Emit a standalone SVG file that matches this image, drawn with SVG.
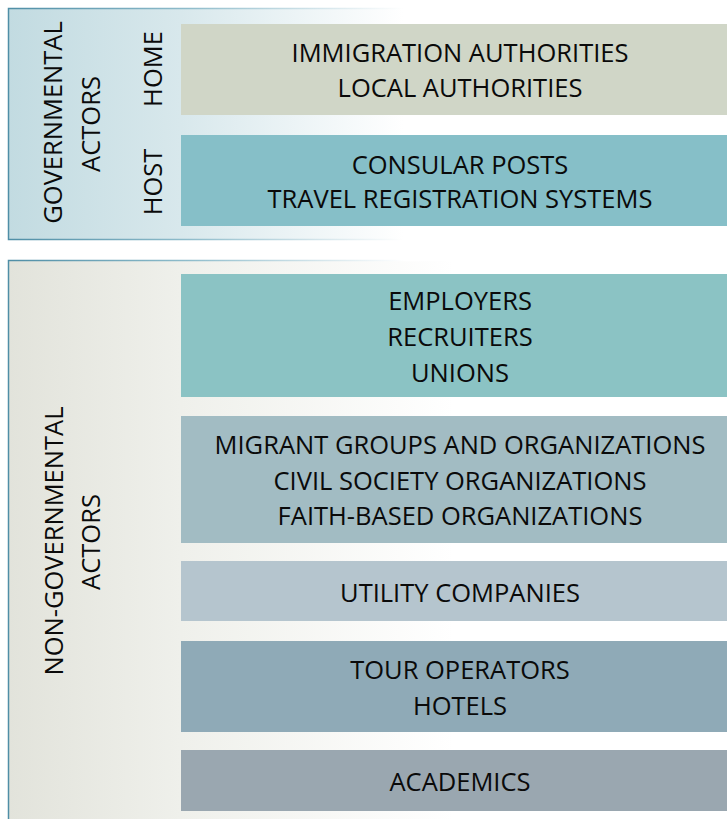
<svg xmlns="http://www.w3.org/2000/svg" width="727" height="819" viewBox="0 0 727 819">
<defs>
<linearGradient id="gTop" gradientUnits="userSpaceOnUse" x1="8" y1="0" x2="727" y2="0">
<stop offset="0" stop-color="#c2dbe1"/>
<stop offset="0.24" stop-color="#d8e8ec"/>
<stop offset="0.55" stop-color="#ffffff"/>
</linearGradient>
<linearGradient id="gTopS" gradientUnits="userSpaceOnUse" x1="8" y1="0" x2="727" y2="0">
<stop offset="0" stop-color="#4f8ea6"/>
<stop offset="0.25" stop-color="#8fbccb"/>
<stop offset="0.55" stop-color="#ffffff"/>
</linearGradient>
<linearGradient id="gBot" gradientUnits="userSpaceOnUse" x1="8" y1="0" x2="727" y2="0">
<stop offset="0" stop-color="#e2e3db"/>
<stop offset="0.24" stop-color="#eff0eb"/>
<stop offset="0.62" stop-color="#ffffff"/>
</linearGradient>
<linearGradient id="gBotS" gradientUnits="userSpaceOnUse" x1="8" y1="0" x2="727" y2="0">
<stop offset="0" stop-color="#4f8ea6"/>
<stop offset="0.25" stop-color="#8fbccb"/>
<stop offset="0.55" stop-color="#ffffff"/>
</linearGradient>
</defs>
<style>
text{font-family:"Open Sans","Noto Sans",sans-serif;font-size:25.5px;fill:#0a0a0a;text-anchor:middle}
</style>
<g id="governmental">
<rect x="8.5" y="8.5" width="730" height="231" fill="url(#gTop)" stroke="url(#gTopS)" stroke-width="1.5"/>
<text transform="translate(62,122.5) rotate(-90)">GOVERNMENTAL</text>
<text transform="translate(100,124) rotate(-90)">ACTORS</text>
</g>
<g id="home-label"><text transform="translate(162,69) rotate(-90)">HOME</text></g>
<g id="host-label"><text transform="translate(162,182) rotate(-90)">HOST</text></g>
<g id="home">
<rect x="181" y="24" width="560" height="91" fill="#d0d6c7"/>
<text x="460" y="62">IMMIGRATION AUTHORITIES</text>
<text x="460" y="97">LOCAL AUTHORITIES</text>
</g>
<g id="host">
<rect x="181" y="135" width="560" height="91" fill="#86bfc8"/>
<text x="460" y="174">CONSULAR POSTS</text>
<text x="460" y="208">TRAVEL REGISTRATION SYSTEMS</text>
</g>
<g id="nongovernmental">
<rect x="8.5" y="260.5" width="730" height="570" fill="url(#gBot)" stroke="url(#gBotS)" stroke-width="1.5"/>
<text transform="translate(63,541) rotate(-90)">NON-GOVERNMENTAL</text>
<text transform="translate(100,542) rotate(-90)">ACTORS</text>
</g>
<g id="employers">
<rect x="181" y="274" width="560" height="123" fill="#8bc3c4"/>
<text x="460" y="310">EMPLOYERS</text>
<text x="460" y="346">RECRUITERS</text>
<text x="460" y="382">UNIONS</text>
</g>
<g id="migrant">
<rect x="181" y="416" width="560" height="127" fill="#a2bcc3"/>
<text x="460" y="454">MIGRANT GROUPS AND ORGANIZATIONS</text>
<text x="460" y="490">CIVIL SOCIETY ORGANIZATIONS</text>
<text x="460" y="525">FAITH-BASED ORGANIZATIONS</text>
</g>
<g id="utility">
<rect x="181" y="561" width="560" height="60" fill="#b5c5ce"/>
<text x="460" y="602">UTILITY COMPANIES</text>
</g>
<g id="tour">
<rect x="181" y="641" width="560" height="91" fill="#8faab7"/>
<text x="460" y="679">TOUR OPERATORS</text>
<text x="460" y="715">HOTELS</text>
</g>
<g id="academics">
<rect x="181" y="750" width="560" height="61" fill="#9aa7b0"/>
<text x="460" y="791">ACADEMICS</text>
</g>
<g id="connectors"/>
</svg>
